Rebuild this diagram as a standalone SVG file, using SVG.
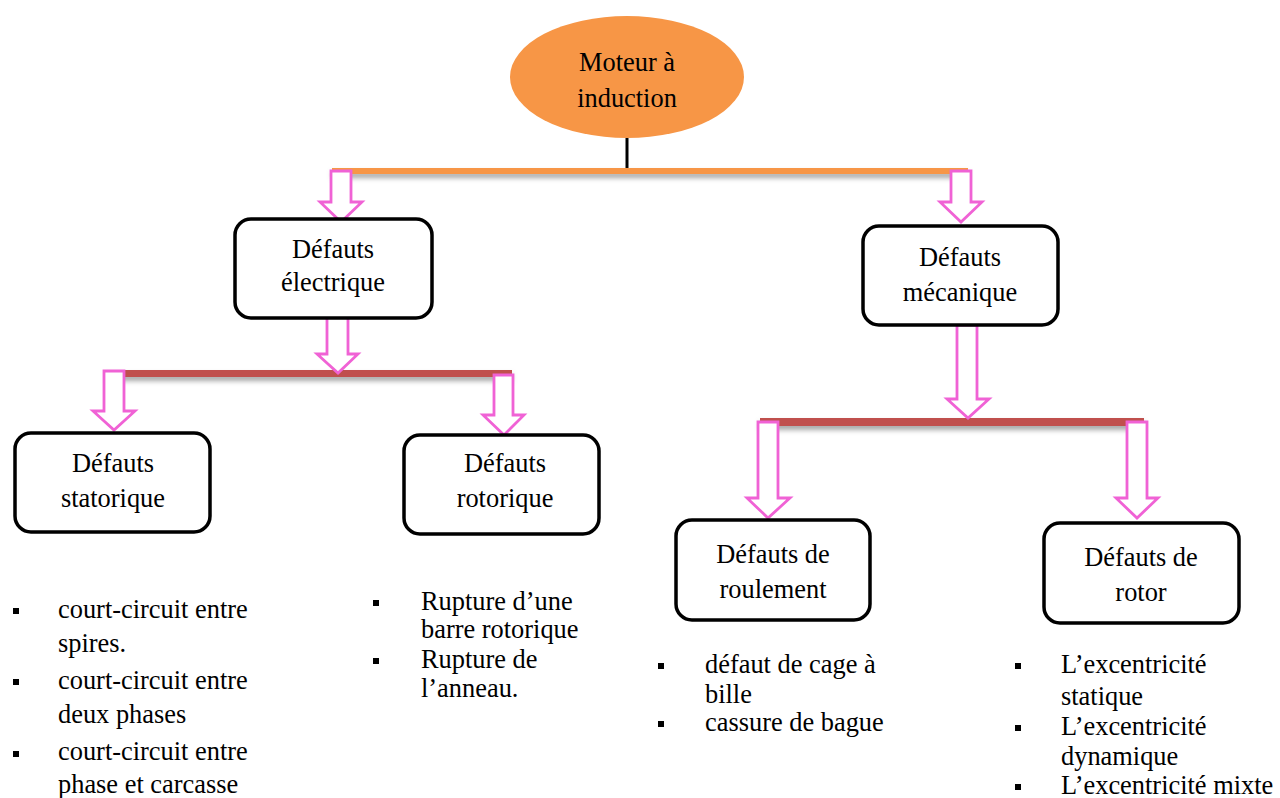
<svg xmlns="http://www.w3.org/2000/svg" width="1280" height="798" viewBox="0 0 1280 798" font-family="'Liberation Serif', Tinos, 'Times New Roman', 'DejaVu Serif', serif" font-size="26.4">
<defs>
<filter id="sh" x="-5%" y="-100%" width="110%" height="400%">
<feDropShadow dx="0" dy="4" stdDeviation="2.5" flood-color="#808080" flood-opacity="0.7"/>
</filter>
</defs>
<style>
text{font-family:'Liberation Serif',Tinos,'Times New Roman','DejaVu Serif',serif;font-size:26.4px;fill:#000}
.c{text-anchor:middle}
.box{fill:#fff;stroke:#000;stroke-width:3.5}
.arr{fill:#fff;stroke:#F062D5;stroke-width:2.8;stroke-linejoin:miter}
.b{fill:#000}
</style>
<rect width="1280" height="798" fill="#fff"/>
<g id="connectors">
<line x1="627" y1="138" x2="627" y2="169" stroke="#000" stroke-width="3"/>
<rect x="332" y="168" width="636" height="6" fill="#F79646" filter="url(#sh)"/>
<rect x="108" y="370" width="404" height="7" fill="#C0504D" filter="url(#sh)"/>
<rect x="760" y="418" width="384" height="8" fill="#C0504D" filter="url(#sh)"/>
<path class="arr" d="M331,171 H351 V202 H362 L341,222 L320,202 H331 Z"/>
<path class="arr" d="M951,171 H971 V202 H982 L961,222 L940,202 H951 Z"/>
<path class="arr" d="M327,314 H348 V354 H358 L338,373 L317,354 H327 Z"/>
<path class="arr" d="M104,371 H124 V411 H135 L114,430 L93,411 H104 Z"/>
<path class="arr" d="M494,375 H513 V415 H524 L504,435 L483,415 H494 Z"/>
<path class="arr" d="M957,325 H977 V399 H989 L968,418 L947,399 H957 Z"/>
<path class="arr" d="M758,422 H778 V498 H790 L768,518 L747,498 H758 Z"/>
<path class="arr" d="M1127,422 H1147 V498 H1158 L1137,518 L1116,498 H1127 Z"/>
</g>
<g id="moteur">
<ellipse cx="627" cy="77" rx="117" ry="61" fill="#F79646"/>
<text class="c" x="627" y="71">Moteur à</text>
<text class="c" x="627" y="107">induction</text>
</g>
<g id="electrique">
<rect class="box" x="235" y="219" width="197" height="99" rx="16"/>
<text class="c" x="333" y="258">Défauts</text>
<text class="c" x="333" y="291">électrique</text>
</g>
<g id="mecanique">
<rect class="box" x="863" y="226" width="195" height="99" rx="16"/>
<text class="c" x="960" y="266">Défauts</text>
<text class="c" x="960" y="301">mécanique</text>
</g>
<g id="statorique">
<rect class="box" x="15" y="433" width="195" height="99" rx="16"/>
<text class="c" x="113" y="472">Défauts</text>
<text class="c" x="113" y="507">statorique</text>
</g>
<g id="rotorique">
<rect class="box" x="404" y="435" width="195" height="99" rx="16"/>
<text class="c" x="505" y="472">Défauts</text>
<text class="c" x="505" y="507">rotorique</text>
</g>
<g id="roulement">
<rect class="box" x="676" y="520" width="194" height="100" rx="16"/>
<text class="c" x="773" y="563">Défauts de</text>
<text class="c" x="773" y="598">roulement</text>
</g>
<g id="rotor">
<rect class="box" x="1044" y="523" width="195" height="100" rx="16"/>
<text class="c" x="1141" y="566">Défauts de</text>
<text class="c" x="1141" y="601">rotor</text>
</g>
<g id="list-statorique">
<rect class="b" x="13" y="608" width="6" height="6"/>
<rect class="b" x="13" y="679" width="6" height="6"/>
<rect class="b" x="13" y="751" width="6" height="6"/>
<text x="58" y="618">court-circuit entre</text>
<text x="58" y="652">spires.</text>
<text x="58" y="689">court-circuit entre</text>
<text x="58" y="723">deux phases</text>
<text x="58" y="760">court-circuit entre</text>
<text x="58" y="793">phase et carcasse</text>
</g>
<g id="list-rotorique">
<rect class="b" x="373" y="600" width="6" height="6"/>
<rect class="b" x="373" y="658" width="6" height="6"/>
<text x="421" y="610">Rupture d’une</text>
<text x="421" y="638">barre rotorique</text>
<text x="421" y="668">Rupture de</text>
<text x="421" y="697">l’anneau.</text>
</g>
<g id="list-roulement">
<rect class="b" x="658" y="663" width="6" height="6"/>
<rect class="b" x="658" y="721" width="6" height="6"/>
<text x="705" y="673">défaut de cage à</text>
<text x="705" y="703">bille</text>
<text x="705" y="731">cassure de bague</text>
</g>
<g id="list-rotor">
<rect class="b" x="1015" y="663" width="6" height="6"/>
<rect class="b" x="1015" y="725" width="6" height="6"/>
<rect class="b" x="1015" y="784" width="6" height="6"/>
<text x="1061" y="673">L’excentricité</text>
<text x="1061" y="705">statique</text>
<text x="1061" y="735">L’excentricité</text>
<text x="1061" y="765">dynamique</text>
<text x="1061" y="794">L’excentricité mixte</text>
</g>
</svg>
